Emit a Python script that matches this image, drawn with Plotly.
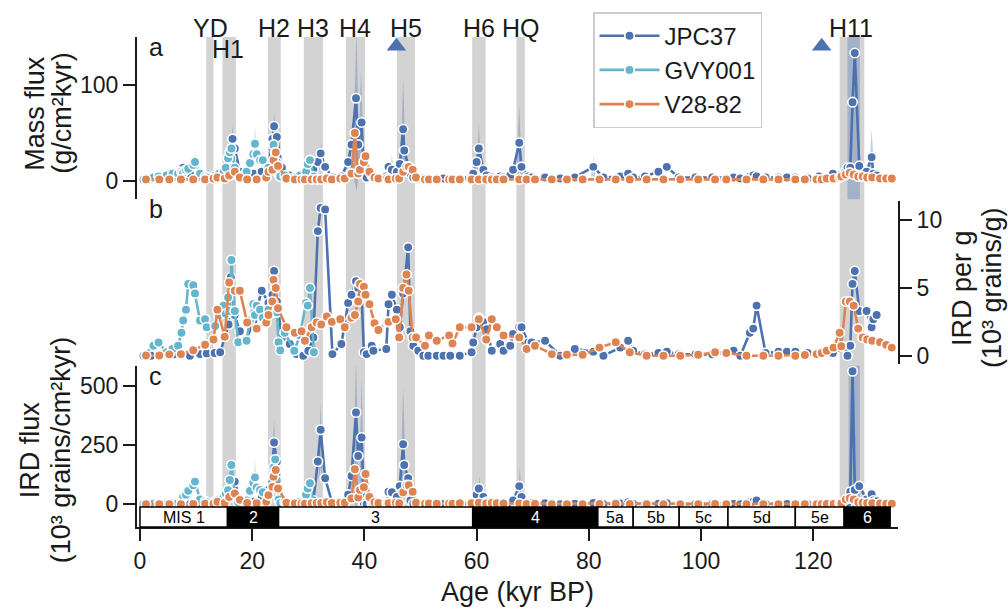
import plotly.graph_objects as go

# ---------------- data ----------------
series_names = ["JPC37", "GVY001", "V28-82"]

# JPC37: age (kyr BP), mass flux, IRD per g, IRD flux
jpc_age = [2.0, 4.0, 6.0, 7.7, 8.9, 10.7, 11.9, 13.3, 14.3, 15.8,
           16.2, 16.5, 16.9, 17.8, 19.0, 20.2, 21.7, 22.9, 23.6, 23.9,
           24.4, 25.3, 26.7, 27.9, 29.1, 30.0, 30.9, 31.7, 32.2, 33.0,
           34.3, 35.9, 37.1, 37.7, 38.5, 38.9, 39.5, 39.9, 40.4, 41.3,
           41.6, 43.9, 44.3, 44.9, 45.8, 46.3, 46.9, 47.1, 47.8, 48.2,
           48.7, 49.6, 50.5, 51.4, 52.9, 54.1, 55.3, 57.0, 59.1, 59.4,
           60.0, 60.4, 61.2, 61.8, 62.7, 64.2, 64.8, 66.0, 66.5, 67.6,
           68.0, 69.2, 69.8, 72.2, 74.9, 77.5, 80.8, 82.6, 85.6, 87.0,
           87.9, 90.0, 92.4, 93.9, 96.0, 99.0, 102.0, 105.8, 107.0, 108.7,
           109.3, 109.9, 111.5, 113.8, 115.3, 116.8, 119.0, 121.0, 123.5, 125.7,
           126.1, 126.6, 127.0, 127.4, 128.2, 129.5, 130.4, 130.7, 131.3]
jpc_mass = [3, 4, 6, 14, 8, 5, 4, 4, 6, 14,
            24, 44, 34, 10, 6, 8, 10, 14, 44, 57,
            46, 14, 6, 4, 3, 8, 12, 20, 29, 15,
            4, 5, 20, 38, 86, 38, 61, 10, 4, 6,
            4, 5, 15, 12, 10, 18, 54, 32, 15, 8,
            4, 3, 3, 3, 3, 3, 3, 3, 5, 8,
            20, 34, 12, 6, 4, 5, 4, 6, 12, 40,
            15, 5, 4, 4, 3, 4, 15, 4, 5, 8,
            4, 5, 10, 15, 4, 4, 4, 4, 3, 5,
            6, 5, 4, 4, 4, 4, 3, 5, 8, 10,
            14, 14, 82, 133, 16, 10, 25, 8, 6]
jpc_irdg = [0.0, 0.1, 0.1, 0.1, 0.0, 0.12, 0.17, 0.2, 0.25, 2.3,
            5.8, 4.8, 3.0, 1.8, 1.2, 2.5, 4.8, 3.9, 4.5, 6.25,
            4.0, 1.35, 0.86, 0.12, 0.0, 0.37, 1.35, 9.2, 10.9, 10.8,
            0.12, 0.86, 3.9, 4.5, 5.5, 5.0, 4.5, 0.25, 0.12, 0.74,
            0.37, 0.5, 3.8, 4.5, 3.4, 2.1, 4.6, 5.0, 8.0, 1.8,
            0.74, 0.37, 0.0, 0.0, 0.0, 0.0, 0.0, 0.0, 0.25, 0.98,
            2.1, 2.8, 2.5, 1.96, 0.37, 0.86, 0.37, 0.74, 1.6, 2.1,
            2.1, 0.98, 0.98, 1.1, 0.0, 0.5, 0.3, 0.0, 0.6, 1.1,
            0.37, 0.1, 0.2, 0.3, 0.1, 0.1, 0.1, 0.37, 0.0, 1.7,
            2.0, 3.7, 0.2, 0.3, 0.3, 0.3, 0.2, 0.1, 0.2, 0.6,
            0.0, 0.74, 5.3, 6.25, 3.3, 3.3, 2.1, 2.7, 3.0]
jpc_irdflux = [0, 0, 1, 2, 0, 1, 1, 1, 2, 30,
               95, 100, 95, 20, 5, 10, 30, 60, 150, 260,
               180, 20, 5, 1, 0, 3, 15, 180, 314, 109,
               1, 5, 40, 119, 387, 203, 281, 5, 0, 4,
               1, 2, 52, 50, 30, 76, 253, 165, 109, 15,
               3, 1, 0, 0, 0, 0, 0, 0, 1, 8,
               40, 66, 30, 10, 1, 4, 1, 4, 15, 76,
               30, 5, 4, 4, 0, 2, 5, 0, 3, 8,
               1, 1, 2, 4, 0, 0, 0, 1, 0, 8,
               10, 15, 1, 1, 1, 1, 0, 0, 1, 5,
               5, 52, 561, 60, 76, 20, 42, 15, 12]

# GVY001
gvy_age = [0.6, 2.4, 3.3, 4.75, 5.8, 6.8, 7.4, 7.7, 8.2, 8.6,
           9.5, 9.8, 10.7, 11.6, 11.9, 13.4, 14.1, 14.9, 15.3, 15.7,
           16.0, 16.3, 16.9, 17.5, 19.0, 19.6, 20.2, 20.5, 20.8, 21.4,
           21.9, 22.9, 23.8, 24.1, 24.4, 24.7, 25.0, 25.8, 27.5, 28.5,
           29.6, 29.9, 30.3, 31.0]
gvy_mass = [2, 4, 5, 6, 8, 8, 10, 9, 12, 13,
            17, 20, 8, 5, 4, 6, 8, 10, 14, 24,
            30, 34, 14, 6, 10, 19, 28, 39, 28, 22,
            22, 14, 38, 30, 20, 8, 5, 6, 4, 6,
            10, 18, 22, 5]
gvy_irdg = [0.0, 0.74, 0.98, 0.25, 0.5, 0.74, 1.7, 2.6, 3.4, 5.3,
            5.2, 4.6, 2.6, 2.7, 2.1, 2.2, 3.0, 3.7, 3.1, 4.3,
            3.3, 7.06, 3.3, 1.0, 1.1, 2.6, 3.8, 3.0, 3.7, 3.4,
            2.8, 3.4, 3.9, 3.2, 3.2, 1.0, 0.4, 1.7, 0.37, 1.5,
            3.9, 3.7, 5.0, 0.25]
gvy_irdflux = [0, 2, 4, 1, 3, 5, 15, 31, 40, 56,
               80, 95, 20, 12, 8, 12, 20, 30, 45, 59,
               102, 165, 40, 8, 15, 56, 90, 113, 70, 60,
               50, 40, 155, 189, 100, 20, 5, 10, 3, 10,
               40, 66, 88, 3]

# V28-82
v28_age = [1.07, 3.44, 5.23, 7.3, 9.5, 11.6, 13.1, 13.8, 15.1, 15.9,
           16.9, 17.8, 19.1, 20.8, 22.5, 22.9, 23.6, 23.8, 24.2, 24.6,
           26.1, 27.6, 28.8, 29.4, 30.6, 31.5, 32.3, 33.3, 34.2, 35.7,
           36.5, 37.7, 38.3, 38.9, 39.2, 39.9, 40.2, 40.9, 41.8, 42.5,
           44.0, 44.3, 45.6, 46.2, 46.9, 47.5, 47.9, 48.6, 49.2, 50.8,
           51.5, 52.9, 55.1, 55.7, 57.0, 59.1, 60.4, 61.7, 62.7, 63.6,
           64.8, 67.6, 68.9, 70.4, 73.4, 76.1, 78.9, 81.9, 84.8, 87.3,
           90.3, 93.3, 96.3, 99.5, 102.5, 104.5, 108.1, 111.1, 113.8, 116.8,
           118.5, 120.6, 121.5, 122.4, 123.6, 124.7, 125.0, 125.8, 126.5, 127.2,
           128.0, 128.8, 129.6, 130.5, 131.9, 133.0, 134.0]
v28_mass = [2, 2, 2, 2, 2, 2, 3, 4, 3, 6,
            10, 4, 2, 2, 4, 10, 12, 22, 30, 16,
            3, 2, 2, 2, 2, 2, 2, 3, 2, 3,
            3, 8, 50, 8, 12, 20, 26, 10, 4, 3,
            3, 2, 3, 3, 10, 15, 15, 12, 4, 2,
            2, 2, 2, 2, 2, 2, 2, 2, 2, 2,
            2, 2, 2, 2, 2, 2, 2, 2, 2, 2,
            2, 2, 2, 2, 2, 2, 2, 2, 2, 2,
            2, 2, 2, 3, 3, 4, 5, 7, 9, 7,
            5, 5, 4, 4, 3, 3, 3]
v28_irdg = [0.02, 0.02, 0.1, 0.12, 0.4, 0.81, 1.2, 3.4, 1.4, 5.4,
            4.8, 4.8, 2.45, 2.0, 2.45, 3.0, 4.0, 5.6, 5.0, 3.5,
            2.1, 1.7, 1.8, 1.1, 2.1, 2.45, 2.3, 2.9, 2.5, 2.7,
            2.1, 2.8, 3.0, 4.0, 5.3, 5.1, 4.5, 3.8, 2.4, 1.9,
            2.5, 2.5, 2.7, 1.35, 5.0, 6.0, 4.8, 1.35, 1.35, 0.74,
            1.5, 1.1, 1.5, 0.9, 2.1, 2.1, 2.7, 1.2, 2.7, 2.1,
            1.5, 1.35, 0.5, 0.74, 0.12, 0.07, 0.07, 0.6, 1.0, 0.25,
            0.0, 0.0, 0.0, 0.07, 0.25, 0.2, 0.0, 0.0, 0.0, 0.0,
            0.05, 0.12, 0.2, 0.37, 0.6, 1.7, 0.7, 4.0, 4.0, 3.7,
            2.0, 1.35, 1.2, 1.1, 1.0, 0.8, 0.6]
v28_irdflux = [0, 0, 0, 0, 1, 2, 3, 10, 5, 30,
               45, 18, 5, 4, 10, 38, 73, 116, 144, 66,
               6, 3, 3, 2, 4, 5, 5, 8, 5, 6,
               6, 24, 147, 28, 60, 71, 127, 30, 8, 5,
               5, 4, 6, 4, 50, 80, 80, 52, 6, 2,
               3, 2, 3, 2, 4, 4, 6, 3, 5, 4,
               3, 3, 1, 2, 0, 0, 0, 1, 2, 1,
               0, 0, 0, 0, 1, 0, 0, 0, 0, 0,
               0, 0, 0, 1, 1, 4, 3, 20, 25, 20,
               8, 6, 5, 4, 3, 2, 2]

# uncertainty envelopes (age, upper, lower), spikes separated by None
jpc_mass_band_age = [15.9, 16.5, 17.1, None, 23.4, 23.9, 24.4, None, 31.8, 32.3, 32.8, None,
                     37.9, 38.6, 39.1, None, 38.9, 39.4, 39.9, None, 44.5, 44.9, 45.3, None,
                     46.4, 46.9, 47.4, None, 60.0, 60.4, 60.8, None, 67.1, 67.6, 68.1, None,
                     80.4, 80.8, 81.2, None, 126.1, 127.2, 128.3, None, 129.9, 130.4, 130.9]
jpc_mass_band_hi = [8, 59, 8, None, 10, 75, 10, None, 8, 40, 8, None,
                    10, 160, 10, None, 10, 117, 10, None, 5, 27, 5, None,
                    8, 107, 8, None, 5, 61, 5, None, 5, 79, 5, None,
                    5, 26, 5, None, 160, 160, 160, None, 5, 54, 5]
jpc_mass_band_lo = [8, 30, 8, None, 10, 40, 10, None, 8, 20, 8, None,
                    10, -10, 10, None, 10, 20, 10, None, 5, 5, 5, None,
                    8, 20, 8, None, 5, 10, 5, None, 5, 10, 5, None,
                    5, 5, 5, None, -20, -20, -20, None, 5, -3, 5]
gvy_mass_band_age = [9.4, 9.8, 10.2, None, 20.1, 20.5, 20.9, None, 21.6, 21.9, 22.2]
gvy_mass_band_hi = [10, 28, 10, None, 20, 58, 20, None, 15, 35, 15]
gvy_mass_band_lo = [10, 12, 10, None, 20, 20, 20, None, 15, 10, 15]
v28_mass_band_age = [23.8, 24.2, 24.6, None, 37.9, 38.3, 38.7]
v28_mass_band_hi = [15, 40, 15, None, 8, 100, 8]
v28_mass_band_lo = [15, 15, 15, None, 8, 10, 8]

jpc_flux_band_age = [23.5, 23.9, 24.3, None, 31.8, 32.2, 32.6, None, 38.0, 38.5, 39.0, None,
                     39.1, 39.5, 39.9, None, 46.4, 46.9, 47.4, None, 60.1, 60.5, 60.9, None,
                     67.3, 67.7, 68.1, None, 126.3, 127.2, 128.3]
jpc_flux_band_hi = [150, 356, 150, None, 100, 427, 100, None, 100, 620, 100, None,
                    100, 540, 100, None, 80, 497, 80, None, 10, 119, 10, None,
                    10, 151, 10, None, 620, 620, 620]
jpc_flux_band_lo = [150, 150, 150, None, 100, 150, 100, None, 100, -40, 100, None,
                    100, 50, 100, None, 80, 50, 80, None, 10, 10, 10, None,
                    10, 10, 10, None, -20, -20, -20]
gvy_flux_band_age = [16.0, 16.3, 16.6, None, 20.1, 20.5, 20.9]
gvy_flux_band_hi = [80, 200, 80, None, 50, 190, 50]
gvy_flux_band_lo = [80, 80, 80, None, 50, 50, 50]
v28_flux_band_age = [39.8, 40.2, 40.6]
v28_flux_band_hi = [40, 180, 40]
v28_flux_band_lo = [40, 40, 40]

# Heinrich events (start, end in kyr) and labels
event_labels = ["YD", "H1", "H2", "H3", "H4", "H5", "H6", "HQ", "H11"]
event_start = [11.8, 14.7, 22.8, 29.2, 36.7, 45.8, 59.2, 67.1, 124.7]
event_end = [13.1, 17.1, 25.1, 32.6, 40.1, 49.0, 61.6, 68.6, 129.1]
event_label_age = [12.5, 15.7, 23.9, 30.8, 38.3, 47.4, 60.4, 67.9, 126.7]
triangle_age = [45.7, 121.5]

# Marine isotope stages
mis_labels = ["MIS 1", "2", "3", "4", "5a", "5b", "5c", "5d", "5e", "6"]
mis_start = [0.0, 15.6, 24.7, 59.3, 81.6, 87.9, 96.1, 104.8, 116.8, 125.5]
mis_end = [15.6, 24.7, 59.3, 81.6, 87.9, 96.1, 104.8, 116.8, 125.5, 133.7]
mis_dark = [False, True, False, True, False, False, False, False, False, True]

x_ticks = [0, 20, 40, 60, 80, 100, 120]

# ---------------- styling ----------------
colors = {"JPC37": "#4C72B0", "GVY001": "#64B5CD", "V28-82": "#DD8452"}
band_colors = {"JPC37": "rgba(76,114,176,0.35)", "GVY001": "rgba(100,181,205,0.35)",
               "V28-82": "rgba(221,132,82,0.35)"}
FONT = "Liberation Sans, Arial, Helvetica, sans-serif"
INK = "#1a1a1a"

L, R, T, B = 137, 898, 35, 527
W, H = R - L, B - T


def px_x(px):
    return (px - L) / W


def px_y(py):
    return (B - py) / H


def polygon(ages, hi, lo):
    xs, ys = [], []
    seg_a, seg_h, seg_l = [], [], []
    for a, h, l in list(zip(ages, hi, lo)) + [(None, None, None)]:
        if a is None:
            if seg_a:
                xs += seg_a + seg_a[::-1] + [seg_a[0], None]
                ys += seg_h + seg_l[::-1] + [seg_h[0], None]
            seg_a, seg_h, seg_l = [], [], []
        else:
            seg_a.append(a); seg_h.append(h); seg_l.append(l)
    return xs, ys


fig = go.Figure()

bands = [
    ("y", "JPC37", jpc_mass_band_age, jpc_mass_band_hi, jpc_mass_band_lo),
    ("y", "GVY001", gvy_mass_band_age, gvy_mass_band_hi, gvy_mass_band_lo),
    ("y", "V28-82", v28_mass_band_age, v28_mass_band_hi, v28_mass_band_lo),
    ("y3", "JPC37", jpc_flux_band_age, jpc_flux_band_hi, jpc_flux_band_lo),
    ("y3", "GVY001", gvy_flux_band_age, gvy_flux_band_hi, gvy_flux_band_lo),
    ("y3", "V28-82", v28_flux_band_age, v28_flux_band_hi, v28_flux_band_lo),
]
for yax, name, a, h, l in bands:
    xs, ys = polygon(a, h, l)
    fig.add_trace(go.Scatter(x=xs, y=ys, yaxis=yax, fill="toself", mode="lines",
                             line=dict(width=0), fillcolor=band_colors[name],
                             hoverinfo="skip", showlegend=False))

panel_data = {
    "y": [("JPC37", jpc_age, jpc_mass), ("GVY001", gvy_age, gvy_mass), ("V28-82", v28_age, v28_mass)],
    "y2": [("JPC37", jpc_age, jpc_irdg), ("GVY001", gvy_age, gvy_irdg), ("V28-82", v28_age, v28_irdg)],
    "y3": [("JPC37", jpc_age, jpc_irdflux), ("GVY001", gvy_age, gvy_irdflux), ("V28-82", v28_age, v28_irdflux)],
}
for yax, lst in panel_data.items():
    for name, ages, vals in lst:
        fig.add_trace(go.Scatter(
            x=ages, y=vals, yaxis=yax, mode="lines+markers", name=name,
            legendgroup=name, showlegend=(yax == "y"),
            line=dict(color=colors[name], width=2.6),
            marker=dict(size=9.5, color=colors[name], line=dict(color="white", width=1.6)),
            cliponaxis=True))

fig.add_trace(go.Scatter(x=triangle_age, y=[140] * len(triangle_age), yaxis="y", mode="markers",
                         marker=dict(symbol="triangle-up", size=17, color=colors["JPC37"]),
                         showlegend=False, cliponaxis=False, hoverinfo="skip"))

shapes = []
for s, e in zip(event_start, event_end):
    shapes.append(dict(type="rect", xref="x", yref="paper", x0=s, x1=e,
                       y0=px_y(507), y1=1.0, fillcolor="#d3d3d3", line=dict(width=0), layer="below"))
annotations = []
for s, e, lab, dark in zip(mis_start, mis_end, mis_labels, mis_dark):
    shapes.append(dict(type="rect", xref="x", yref="paper", x0=s, x1=e, y0=0, y1=px_y(507),
                       fillcolor="black" if dark else "white", line=dict(color="black", width=1.5),
                       layer="above"))
    annotations.append(dict(x=(s + e) / 2, y=px_y(517), xref="x", yref="paper", text=lab,
                            showarrow=False, xanchor="center", yanchor="middle",
                            font=dict(size=16, color="white" if dark else "black", family=FONT)))

for lab, age in zip(event_labels, event_label_age):
    yy = px_y(47) if lab == "H1" else px_y(26)
    annotations.append(dict(x=age, y=yy, xref="x", yref="paper", text=lab, showarrow=False,
                            xanchor="center", yanchor="middle", font=dict(size=25, color=INK, family=FONT)))

for lab, px, py in [("a", 147, 45), ("b", 147, 208), ("c", 147, 375)]:
    annotations.append(dict(x=px_x(px), y=px_y(py), xref="paper", yref="paper", text=lab,
                            showarrow=False, xanchor="left", yanchor="middle",
                            font=dict(size=25, color=INK, family=FONT)))

titles = [("Mass flux", 35, 112), ("(g/cm²kyr)", 62, 112),
          ("IRD flux", 30, 450), ("(10³ grains/cm²kyr)", 61, 450),
          ("IRD per g", 962, 287), ("(10³ grains/g)", 992, 287),
          ("Age (kyr BP)", 517, 592)]
for txt, px, py in titles:
    annotations.append(dict(x=px_x(px), y=px_y(py), xref="paper", yref="paper", text=txt,
                            showarrow=False, xanchor="center", yanchor="middle",
                            textangle=0 if txt.startswith("Age") else -90,
                            font=dict(size=27, color=INK, family=FONT)))

axis_common = dict(showgrid=False, zeroline=False, showline=True, linecolor=INK, linewidth=2,
                   ticks="outside", ticklen=12, tickwidth=2, tickcolor=INK,
                   tickfont=dict(size=23, color=INK, family=FONT))

fig.update_layout(
    width=1008, height=610,
    margin=dict(l=L, r=1008 - R, t=T, b=610 - B),
    paper_bgcolor="white", plot_bgcolor="rgba(0,0,0,0)",
    font=dict(family=FONT, color=INK),
    xaxis=dict(range=[-0.53, 135.1], anchor="y3", tickvals=x_ticks, **axis_common),
    yaxis=dict(domain=[0.669, 1.0], range=[-18.5, 149.5], tickvals=[0, 100], anchor="x", **axis_common),
    yaxis2=dict(domain=[0.333, 0.665], range=[-0.6, 11.41], tickvals=[0, 5, 10], anchor="x",
                side="right", **axis_common),
    yaxis3=dict(domain=[0.0, 0.329], range=[-96.6, 584], tickvals=[0, 250, 500], anchor="x", **axis_common),
    shapes=shapes, annotations=annotations,
    showlegend=True,
    legend=dict(x=px_x(593), y=px_y(12), xanchor="left", yanchor="top",
                bordercolor="#cccccc", borderwidth=1.5, bgcolor="white",
                font=dict(size=24, color=INK, family=FONT), itemwidth=60, tracegroupgap=0,
                tracegroupgap_=None) if False else
    dict(x=px_x(593), y=px_y(10), xanchor="left", yanchor="top",
         bordercolor="#cccccc", borderwidth=1.5, bgcolor="white",
         font=dict(size=24, color=INK, family=FONT), itemwidth=60, tracegroupgap=0),
)

fig.write_html("out.html", config={"displayModeBar": False},
               post_script="document.body.style.margin='0';document.body.style.overflow='hidden';")
